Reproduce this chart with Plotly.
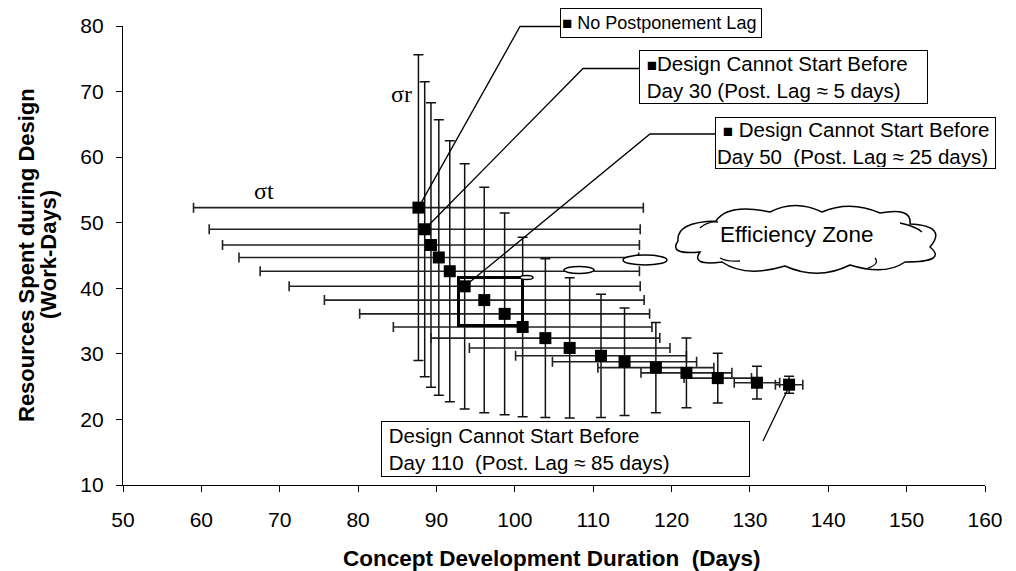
import plotly.graph_objects as go

# ---- data ----
duration = [87.7, 88.5, 89.3, 90.3, 91.7, 93.6, 96.1, 98.7, 101.0, 103.9,
            107.0, 111.0, 114.0, 118.0, 121.9, 125.9, 130.9, 135.0]
resources = [52.3, 49.0, 46.6, 44.7, 42.6, 40.3, 38.2, 36.1, 34.1, 32.4,
             30.9, 29.7, 28.8, 27.9, 27.1, 26.3, 25.6, 25.3]
sigma_r = [23.3, 22.5, 21.7, 21.0, 19.9, 18.7, 17.2, 15.4, 13.7, 12.1,
           10.7, 9.4, 8.2, 6.9, 5.3, 3.8, 2.5, 1.3]
sigma_t = [28.7, 27.5, 26.6, 25.5, 24.2, 22.4, 20.4, 18.5, 16.5, 14.6,
           12.8, 10.9, 9.2, 7.4, 5.8, 4.3, 2.9, 1.75]
x_ticks = [50, 60, 70, 80, 90, 100, 110, 120, 130, 140, 150, 160]
y_ticks = [10, 20, 30, 40, 50, 60, 70, 80]

# ---- layout geometry (pixels in a 1016x571 page) ----
W, H = 1016, 571
L, R, T, B = 123, 985, 26, 485
XR = (50, 160)
YR = (10, 80)


def px(xp):
    return (xp - L) / (R - L)


def py(yp):
    return (B - yp) / (B - T)


def dx(v):
    return (v - XR[0]) / (XR[1] - XR[0])


def dy(v):
    return (v - YR[0]) / (YR[1] - YR[0])


FONT = "Liberation Sans, Arial, sans-serif"
SERIF = "Liberation Serif, Times New Roman, serif"

fig = go.Figure()
fig.add_trace(go.Scatter(
    x=duration, y=resources, mode="markers",
    marker=dict(symbol="square", size=12, color="black"),
    error_y=dict(type="data", array=sigma_r, visible=True,
                 color="#111111", thickness=1.5, width=5),
    error_x=dict(type="data", array=sigma_t, visible=True,
                 color="#222222", thickness=1.6, width=5),
    showlegend=False, cliponaxis=False,
))

shapes = []
# leader lines: point -> bend -> box
leaders = [
    (0, (520, 26.5), (560, 26.5)),
    (1, (583, 68.5), (639, 68.5)),
    (5, (650, 134), (715, 134)),
]
for idx, bend, end in leaders:
    path = "M %.5f %.5f L %.5f %.5f L %.5f %.5f" % (
        dx(duration[idx]), dy(resources[idx]),
        px(bend[0]), py(bend[1]), px(end[0]), py(end[1]))
    shapes.append(dict(type="path", xref="paper", yref="paper", path=path,
                       line=dict(color="black", width=1.3)))
# leader to last point from lower box
shapes.append(dict(type="line", xref="paper", yref="paper",
                   x0=px(763), y0=py(441), x1=dx(duration[-1]) - 0.002,
                   y1=dy(resources[-1]) - 0.012,
                   line=dict(color="black", width=1.3)))

# thick rectangle around the efficiency sub-region
shapes.append(dict(type="rect", xref="paper", yref="paper",
                   x0=px(458.5), x1=px(522.5), y0=py(325.5), y1=py(277.5),
                   line=dict(color="black", width=3)))

# small ellipses
for (x0, x1, y0, y1) in [(520, 533, 275.5, 279.5), (564, 594, 266.5, 273.5),
                         (623, 667, 255, 265)]:
    shapes.append(dict(type="circle", xref="paper", yref="paper",
                       x0=px(x0), x1=px(x1), y0=py(y1), y1=py(y0),
                       fillcolor="white", line=dict(color="black", width=1.5)))

# cloud
cloud_pts = [
    ("M", (678, 241)),
    ("Q", (676, 222), (716, 221)),
    ("Q", (728, 203), (770, 212)),
    ("Q", (795, 199), (822, 212)),
    ("Q", (850, 200), (880, 213)),
    ("Q", (912, 207), (910, 224)),
    ("Q", (948, 226), (930, 247)),
    ("Q", (948, 262), (905, 262)),
    ("Q", (885, 276), (850, 265)),
    ("Q", (818, 281), (785, 266)),
    ("Q", (745, 278), (722, 262)),
    ("Q", (690, 266), (700, 252)),
    ("Q", (668, 255), (678, 241)),
]
parts = []
for item in cloud_pts:
    if item[0] == "M":
        parts.append("M %.5f %.5f" % (px(item[1][0]), py(item[1][1])))
    else:
        c, e = item[1], item[2]
        parts.append("Q %.5f %.5f %.5f %.5f" % (px(c[0]), py(c[1]), px(e[0]), py(e[1])))
parts.append("Z")
shapes.append(dict(type="path", xref="paper", yref="paper", path=" ".join(parts),
                   fillcolor="white", line=dict(color="black", width=1.5)))
# inner curls of the cloud
for a, c, b in [((700, 228), (708, 221), (718, 222)),
                ((900, 223), (915, 226), (922, 232)),
                ((875, 258), (880, 264), (868, 268)),
                ((720, 258), (727, 262), (740, 261))]:
    shapes.append(dict(type="path", xref="paper", yref="paper",
                       path="M %.5f %.5f Q %.5f %.5f %.5f %.5f" % (
                           px(a[0]), py(a[1]), px(c[0]), py(c[1]), px(b[0]), py(b[1])),
                       line=dict(color="black", width=1.3)))

annotations = []


def box(text, x0, x1, y0, y1, size=20.5):
    pad = 1
    annotations.append(dict(
        xref="paper", yref="paper", x=px((x0 + x1) / 2), y=py((y0 + y1) / 2),
        xanchor="center", yanchor="middle", showarrow=False,
        text=text, align="left", width=(x1 - x0) - 2 * pad - 2,
        height=(y1 - y0) - 2 * pad - 2,
        bordercolor="black", borderwidth=1, borderpad=pad, bgcolor="white",
        font=dict(family=FONT, size=size, color="black"),
    ))


box("<span style='font-size:17px'>■</span> No Postponement Lag", 560, 762, 8, 38, size=18)
box("\u00a0<span style='font-size:17px'>■</span>Design Cannot Start Before<br>\u00a0Day 30 (Post. Lag ≈ 5 days)",
    639, 928, 50, 104)
box("\u00a0<span style='font-size:17px'>■</span> Design Cannot Start Before<br>Day 50 \u00a0(Post. Lag ≈ 25 days)",
    715, 996, 117, 169)
box("\u00a0Design Cannot Start Before<br>\u00a0Day 110 \u00a0(Post. Lag ≈ 85 days)", 381, 750, 421, 477)


def label(text, xp, yp, size, family=FONT, angle=0):
    annotations.append(dict(xref="paper", yref="paper", x=px(xp), y=py(yp),
                            xanchor="center", yanchor="middle", showarrow=False,
                            text=text, textangle=angle,
                            font=dict(family=family, size=size, color="black")))


label("Efficiency Zone", 796, 234, 22.5)
label("σr", 401, 94, 24, SERIF)
label("σt", 264, 191, 24, SERIF)
# axis titles
label("<b>Concept Development Duration \u00a0(Days)</b>", 552, 558, 22.5)
label("<b>Resources Spent during Design</b>", 26, 255, 22, angle=-90)
label("<b>(Work-Days)</b>", 48, 255, 22, angle=-90)

fig.update_layout(
    width=W, height=H,
    margin=dict(l=L, r=W - R, t=T, b=H - B, pad=0),
    paper_bgcolor="white", plot_bgcolor="white",
    font=dict(family=FONT, size=21, color="black"),
    shapes=shapes, annotations=annotations,
    xaxis=dict(range=list(XR), tickvals=x_ticks, showgrid=False, zeroline=False,
               showline=True, linecolor="black", linewidth=1.3,
               ticks="outside", ticklen=6, tickcolor="black", tickwidth=1.3,
               ticklabelstandoff=10,
               tickfont=dict(family=FONT, size=21)),
    yaxis=dict(range=list(YR), tickvals=y_ticks, showgrid=False, zeroline=False,
               showline=True, linecolor="black", linewidth=1.3,
               ticks="outside", ticklen=6, tickcolor="black", tickwidth=1.3,
               ticklabelstandoff=8,
               tickfont=dict(family=FONT, size=21)),
)

fig.write_html("out.html")
